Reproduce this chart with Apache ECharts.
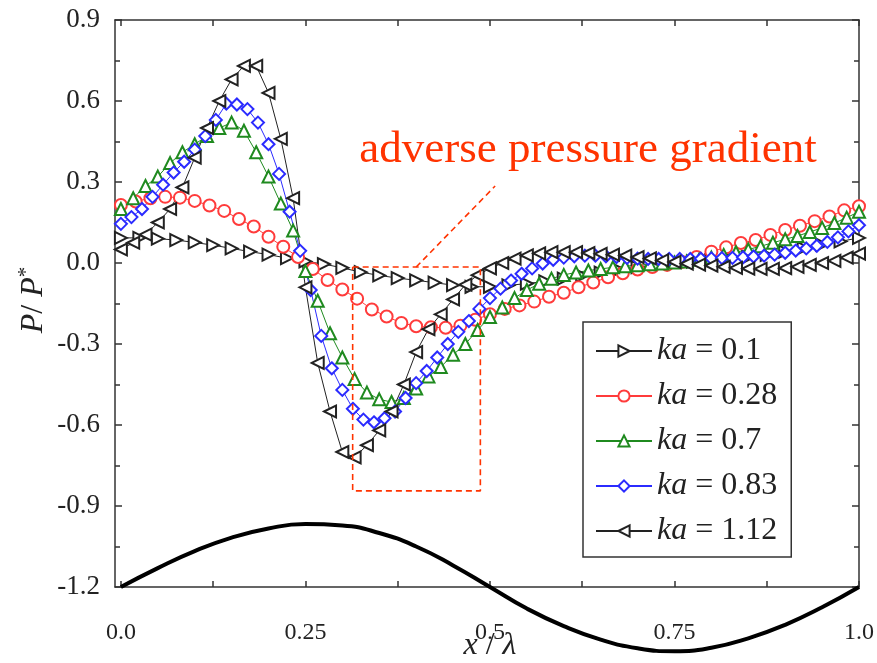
<!DOCTYPE html>
<html>
<head>
<meta charset="utf-8"/>
<title>P/P* along the wavy wall</title>
<script src="https://cdn.jsdelivr.net/npm/echarts@6/dist/echarts.min.js"></script>
<style>
    html, body { margin: 0; padding: 0; background: #fff; }
    #main { width: 877px; height: 663px; }
</style>
</head>
<body>
<div id="main"></div>
<script>
    // legend names (ka values)
    var kaNames = ['0.1', '0.28', '0.7', '0.83', '1.12'];

    // pressure P/P*, points evenly spaced in x/λ
    var ka010Step = 0.025;
    var ka010 = [0.093, 0.093, 0.09, 0.085, 0.076, 0.066, 0.054, 0.042, 0.031, 0.018,
        0.006, -0.004, -0.018, -0.034, -0.046, -0.056, -0.064, -0.073, -0.082, -0.088,
        -0.088, -0.083, -0.076, -0.068, -0.058, -0.047, -0.036, -0.025, -0.015, -0.006,
        0.0, 0.005, 0.01, 0.015, 0.022, 0.03, 0.042, 0.055, 0.068, 0.08, 0.093];

    var ka028Step = 0.02;
    var ka028 = [0.215, 0.228, 0.24, 0.245, 0.242, 0.23, 0.213, 0.193, 0.163, 0.135,
        0.097, 0.06, 0.022, -0.022, -0.063, -0.098, -0.132, -0.172, -0.198, -0.222,
        -0.234, -0.238, -0.24, -0.232, -0.21, -0.19, -0.17, -0.157, -0.143, -0.125,
        -0.11, -0.09, -0.072, -0.053, -0.038, -0.024, -0.015, -0.007, 0.004, 0.022,
        0.042, 0.058, 0.074, 0.085, 0.104, 0.122, 0.138, 0.155, 0.172, 0.195, 0.21];

    var ka070Step = 1 / 60;
    var ka070 = [0.2, 0.24, 0.285, 0.32, 0.37, 0.41, 0.44, 0.47, 0.5, 0.52,
        0.49, 0.41, 0.32, 0.22, 0.12, -0.03, -0.14, -0.26, -0.35, -0.43,
        -0.48, -0.505, -0.515, -0.5, -0.465, -0.42, -0.385, -0.34, -0.3, -0.248,
        -0.2, -0.165, -0.13, -0.1, -0.077, -0.058, -0.044, -0.035, -0.028, -0.022,
        -0.016, -0.012, -0.008, -0.005, -0.002, 0.002, 0.006, 0.012, 0.02, 0.03,
        0.04, 0.05, 0.062, 0.075, 0.088, 0.1, 0.115, 0.13, 0.148, 0.168, 0.19];

    var ka083Step = 1 / 70;
    var ka083 = [0.145, 0.17, 0.2, 0.245, 0.29, 0.335, 0.375, 0.42, 0.47, 0.53,
        0.59, 0.587, 0.57, 0.52, 0.44, 0.33, 0.19, 0.045, -0.1, -0.27,
        -0.39, -0.47, -0.54, -0.58, -0.59, -0.575, -0.55, -0.5, -0.445, -0.4,
        -0.35, -0.3, -0.255, -0.215, -0.17, -0.13, -0.095, -0.065, -0.04, -0.02,
        -0.002, 0.012, 0.02, 0.025, 0.027, 0.027, 0.025, 0.022, 0.019, 0.016,
        0.015, 0.015, 0.015, 0.015, 0.015, 0.016, 0.017, 0.018, 0.019, 0.021,
        0.024, 0.027, 0.031, 0.038, 0.046, 0.054, 0.064, 0.078, 0.095, 0.117, 0.14];

    var ka112Step = 1 / 60;
    var ka112 = [0.05, 0.075, 0.105, 0.15, 0.2, 0.28, 0.39, 0.5, 0.6, 0.68,
        0.73, 0.73, 0.63, 0.46, 0.24, -0.09, -0.37, -0.55, -0.7, -0.72,
        -0.675, -0.62, -0.55, -0.45, -0.33, -0.245, -0.19, -0.135, -0.08, -0.045,
        -0.02, 0.0, 0.016, 0.028, 0.036, 0.04, 0.04, 0.04, 0.037, 0.034,
        0.031, 0.027, 0.022, 0.017, 0.01, 0.004, -0.002, -0.006, -0.01, -0.014,
        -0.018, -0.021, -0.022, -0.022, -0.019, -0.014, -0.007, 0.0, 0.008, 0.02, 0.035];

    // wall profile drawn under the axis
    var wallStep = 0.05;
    var wallY = [-1.2, -1.13, -1.067, -1.017, -0.983, -0.967, -0.972, -1.0, -1.05, -1.12,
        -1.2, -1.28, -1.345, -1.395, -1.427, -1.438, -1.425, -1.39, -1.34, -1.275, -1.2];

    // dashed annotation box and its leader line (data coordinates)
    var boxX = [0.314, 0.487, 0.487, 0.314, 0.314];
    var boxY = [-0.015, -0.015, -0.844, -0.844, -0.015];
    var leadX = [0.4, 0.507];
    var leadY = [-0.015, 0.285];

    var xLabels = [0, 0.25, 0.5, 0.75, 1];
    var xTicks = [0, 0.125, 0.25, 0.375, 0.5, 0.625, 0.75, 0.875, 1];

    function pairs(step, ys) {
        return ys.map(function (y, i) {
            return [i * step, y];
        });
    }

    function zip(xs, ys) {
        return xs.map(function (x, i) {
            return [x, ys[i]];
        });
    }

    var serif = 'Liberation Serif';
    var axisColor = '#333';

    var styles = [
        {data: pairs(ka010Step, ka010), color: '#222', symbol: 'emptyTriangle', rotate: -90},
        {data: pairs(ka028Step, ka028), color: '#ff3b3b', symbol: 'emptyCircle', rotate: 0},
        {data: pairs(ka070Step, ka070), color: '#1f8a1f', symbol: 'emptyTriangle', rotate: 0},
        {data: pairs(ka083Step, ka083), color: '#2b2bff', symbol: 'emptyDiamond', rotate: 0},
        {data: pairs(ka112Step, ka112), color: '#222', symbol: 'emptyTriangle', rotate: 90}
    ];

    var series = styles.map(function (s, i) {
        return {
            name: kaNames[i],
            type: 'line',
            data: s.data,
            symbol: s.symbol,
            symbolRotate: s.rotate,
            symbolSize: 12,
            showAllSymbol: true,
            color: s.color,
            lineStyle: {width: 1, color: s.color},
            itemStyle: {color: s.color, borderWidth: 1},
            z: 3
        };
    });

    series.push({
        name: 'wall',
        type: 'line',
        data: pairs(wallStep, wallY),
        smooth: 0.5,
        symbol: 'none',
        clip: false,
        lineStyle: {width: 4, color: '#000'},
        silent: true,
        z: 4
    });
    series.push({
        name: 'box',
        type: 'line',
        data: zip(boxX, boxY),
        symbol: 'none',
        lineStyle: {width: 1.6, color: '#ff3300', type: [6, 4]},
        silent: true,
        z: 5
    });
    series.push({
        name: 'lead',
        type: 'line',
        data: zip(leadX, leadY),
        symbol: 'none',
        lineStyle: {width: 1.6, color: '#ff3300', type: [6, 4]},
        silent: true,
        z: 5
    });

    var tickStyle = {color: axisColor, width: 1.5};

    var myChart = echarts.init(document.getElementById('main'));
    var option = {
        animation: false,
        backgroundColor: '#fff',
        grid: {left: 115, right: 13, top: 20, bottom: 76},
        legend: {
            data: kaNames,
            orient: 'vertical',
            left: 583,
            top: 322,
            padding: [13, 14, 10, 12],
            itemGap: 13,
            itemWidth: 56,
            itemHeight: 14,
            borderColor: axisColor,
            borderWidth: 1.5,
            selectedMode: false,
            formatter: function (name) {
                return '{i|ka} = ' + name;
            },
            textStyle: {
                fontFamily: serif,
                fontSize: 32,
                color: '#222',
                rich: {
                    i: {fontFamily: serif, fontSize: 32, fontStyle: 'italic', color: '#222'}
                }
            }
        },
        xAxis: [{
            type: 'value',
            min: -0.008,
            max: 1,
            axisLine: {onZero: false, lineStyle: tickStyle},
            axisTick: {inside: true, length: 6, customValues: xTicks, lineStyle: tickStyle},
            axisLabel: {
                customValues: xLabels,
                margin: 34,
                fontFamily: serif,
                fontSize: 24,
                color: '#222',
                formatter: function (v) {
                    if (v === 0) return '0.0';
                    if (v === 1) return '1.0';
                    return String(v);
                }
            },
            splitLine: {show: false}
        }, {
            type: 'value',
            position: 'top',
            min: -0.008,
            max: 1,
            axisLine: {onZero: false, lineStyle: tickStyle},
            axisTick: {inside: true, length: 6, customValues: xTicks, lineStyle: tickStyle},
            axisLabel: {show: false},
            splitLine: {show: false}
        }],
        yAxis: [{
            type: 'value',
            min: -1.2,
            max: 0.9,
            interval: 0.3,
            axisLine: {show: true, onZero: false, lineStyle: tickStyle},
            axisTick: {inside: true, length: 7, lineStyle: tickStyle},
            minorTick: {show: true, splitNumber: 2, length: 5, lineStyle: tickStyle},
            axisLabel: {
                margin: 15,
                fontFamily: serif,
                fontSize: 27,
                color: '#222',
                formatter: function (v) {
                    return (Math.abs(v) < 1e-9 ? 0 : v).toFixed(1);
                }
            },
            splitLine: {show: false}
        }, {
            type: 'value',
            position: 'right',
            min: -1.2,
            max: 0.9,
            interval: 0.3,
            axisLine: {show: true, onZero: false, lineStyle: tickStyle},
            axisTick: {inside: true, length: 7, lineStyle: tickStyle},
            minorTick: {show: true, splitNumber: 2, length: 5, lineStyle: tickStyle},
            axisLabel: {show: false},
            splitLine: {show: false}
        }],
        graphic: [{
            type: 'text',
            x: 588,
            y: 150,
            style: {
                text: 'adverse pressure gradient',
                font: '45px "Liberation Serif"',
                fill: '#ff3300',
                align: 'center',
                verticalAlign: 'middle'
            },
            z: 10
        }, {
            type: 'text',
            x: 490,
            y: 646,
            style: {
                text: '{i|x} / {i|λ}',
                align: 'center',
                verticalAlign: 'middle',
                rich: {
                    i: {fontFamily: serif, fontSize: 32, fontStyle: 'italic', fill: '#222'}
                },
                font: '32px "Liberation Serif"',
                fill: '#222'
            },
            z: 10
        }, {
            type: 'text',
            x: 34,
            y: 300,
            rotation: Math.PI / 2,
            style: {
                text: '{i|P}/ {i|P}{s|*}',
                align: 'center',
                verticalAlign: 'middle',
                font: '32px "Liberation Serif"',
                fill: '#222',
                rich: {
                    i: {fontFamily: serif, fontSize: 32, fontStyle: 'italic', fill: '#222', lineHeight: 36},
                    s: {fontFamily: serif, fontSize: 21, fill: '#222', verticalAlign: 'top', lineHeight: 36}
                }
            },
            z: 10
        }],
        series: series
    };
    myChart.setOption(option);

    window.onresize = function () {
        myChart.resize();
    };
</script>
</body>
</html>
